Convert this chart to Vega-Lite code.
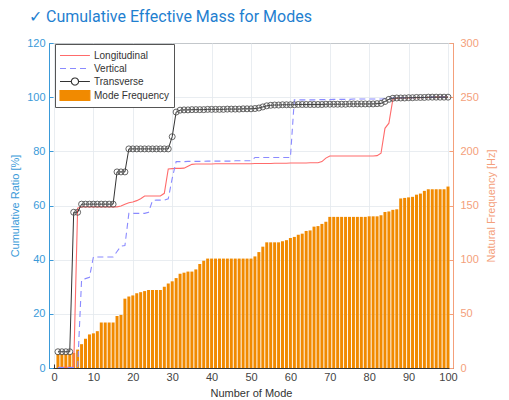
{
  "$schema": "https://vega.github.io/schema/vega-lite/v6.json",
  "width": 404,
  "height": 325,
  "autosize": {"type": "none"},
  "padding": {"left": 49, "top": 43, "right": 56, "bottom": 32},
  "title": {
    "text": "✓  Cumulative Effective Mass for Modes",
    "anchor": "start",
    "frame": "group",
    "dx": -20,
    "offset": 12,
    "font": "Roboto",
    "fontSize": 16,
    "fontWeight": "normal",
    "color": "#1f80d0"
  },
  "config": {
    "view": {"stroke": "#444", "strokeWidth": 1},
    "font": "Liberation Sans",
    "axis": {
      "labelFont": "Liberation Sans",
      "titleFont": "Liberation Sans",
      "labelFontSize": 11,
      "titleFontSize": 11,
      "titleFontWeight": "normal",
      "gridColor": "#e3e8ee",
      "gridWidth": 0.8
    }
  },
  "data": {
    "values": [
      {"mode": 1, "freq": 13, "lon": 0.3, "ver": 0.2, "tra": 6},
      {"mode": 2, "freq": 13, "lon": 0.3, "ver": 0.2, "tra": 6},
      {"mode": 3, "freq": 13, "lon": 0.3, "ver": 0.2, "tra": 6},
      {"mode": 4, "freq": 13, "lon": 0.3, "ver": 0.2, "tra": 6},
      {"mode": 5, "freq": 14, "lon": 0.3, "ver": 0.2, "tra": 57.5},
      {"mode": 6, "freq": 17, "lon": 59, "ver": 0.3, "tra": 57.5},
      {"mode": 7, "freq": 22, "lon": 59.5, "ver": 32.5, "tra": 60.5},
      {"mode": 8, "freq": 27, "lon": 59.5, "ver": 33, "tra": 60.5},
      {"mode": 9, "freq": 31, "lon": 59.5, "ver": 33.5, "tra": 60.5},
      {"mode": 10, "freq": 32, "lon": 59.5, "ver": 41, "tra": 60.5},
      {"mode": 11, "freq": 34, "lon": 59.5, "ver": 41, "tra": 60.5},
      {"mode": 12, "freq": 42, "lon": 59.5, "ver": 41, "tra": 60.5},
      {"mode": 13, "freq": 42, "lon": 59.5, "ver": 41, "tra": 60.5},
      {"mode": 14, "freq": 42, "lon": 59.5, "ver": 41, "tra": 60.5},
      {"mode": 15, "freq": 42, "lon": 59.5, "ver": 41, "tra": 60.5},
      {"mode": 16, "freq": 48, "lon": 59.5, "ver": 43, "tra": 72.4},
      {"mode": 17, "freq": 49, "lon": 59.8, "ver": 45, "tra": 72.4},
      {"mode": 18, "freq": 64, "lon": 60.5, "ver": 45.2, "tra": 72.4},
      {"mode": 19, "freq": 66, "lon": 61, "ver": 57.1, "tra": 80.9},
      {"mode": 20, "freq": 67, "lon": 61.3, "ver": 57.1, "tra": 80.9},
      {"mode": 21, "freq": 69, "lon": 61.8, "ver": 57.1, "tra": 80.9},
      {"mode": 22, "freq": 70, "lon": 62.5, "ver": 57.1, "tra": 80.9},
      {"mode": 23, "freq": 71, "lon": 63.5, "ver": 57.1, "tra": 80.9},
      {"mode": 24, "freq": 72, "lon": 63.5, "ver": 57.5, "tra": 80.9},
      {"mode": 25, "freq": 72, "lon": 63.5, "ver": 61.8, "tra": 80.9},
      {"mode": 26, "freq": 72, "lon": 63.5, "ver": 62, "tra": 80.9},
      {"mode": 27, "freq": 72, "lon": 63.5, "ver": 62, "tra": 80.9},
      {"mode": 28, "freq": 75, "lon": 64.5, "ver": 62, "tra": 80.9},
      {"mode": 29, "freq": 78, "lon": 73.5, "ver": 62.5, "tra": 80.9},
      {"mode": 30, "freq": 80, "lon": 73.6, "ver": 70, "tra": 85.4},
      {"mode": 31, "freq": 83, "lon": 73.7, "ver": 76.2, "tra": 94.5},
      {"mode": 32, "freq": 87, "lon": 73.7, "ver": 76.2, "tra": 95.2},
      {"mode": 33, "freq": 88, "lon": 73.8, "ver": 76.2, "tra": 95.3},
      {"mode": 34, "freq": 89, "lon": 74.5, "ver": 76.3, "tra": 95.3},
      {"mode": 35, "freq": 89, "lon": 75.2, "ver": 76.3, "tra": 95.4},
      {"mode": 36, "freq": 91, "lon": 75.3, "ver": 76.3, "tra": 95.4},
      {"mode": 37, "freq": 96, "lon": 75.3, "ver": 76.3, "tra": 95.4},
      {"mode": 38, "freq": 99, "lon": 75.3, "ver": 76.3, "tra": 95.4},
      {"mode": 39, "freq": 101, "lon": 75.3, "ver": 76.4, "tra": 95.5},
      {"mode": 40, "freq": 101, "lon": 75.3, "ver": 76.4, "tra": 95.5},
      {"mode": 41, "freq": 101, "lon": 75.4, "ver": 76.4, "tra": 95.5},
      {"mode": 42, "freq": 101, "lon": 75.4, "ver": 76.4, "tra": 95.5},
      {"mode": 43, "freq": 101, "lon": 75.4, "ver": 76.4, "tra": 95.5},
      {"mode": 44, "freq": 101, "lon": 75.4, "ver": 76.4, "tra": 95.6},
      {"mode": 45, "freq": 101, "lon": 75.4, "ver": 76.4, "tra": 95.6},
      {"mode": 46, "freq": 101, "lon": 75.4, "ver": 76.5, "tra": 95.6},
      {"mode": 47, "freq": 101, "lon": 75.4, "ver": 76.5, "tra": 95.6},
      {"mode": 48, "freq": 101, "lon": 75.4, "ver": 76.5, "tra": 95.7},
      {"mode": 49, "freq": 101, "lon": 75.4, "ver": 76.5, "tra": 95.7},
      {"mode": 50, "freq": 101, "lon": 75.4, "ver": 76.5, "tra": 95.7},
      {"mode": 51, "freq": 103, "lon": 75.5, "ver": 77.7, "tra": 95.8},
      {"mode": 52, "freq": 107, "lon": 75.5, "ver": 77.7, "tra": 96.0},
      {"mode": 53, "freq": 112, "lon": 75.5, "ver": 77.7, "tra": 96.4},
      {"mode": 54, "freq": 116, "lon": 75.5, "ver": 77.7, "tra": 96.8},
      {"mode": 55, "freq": 116, "lon": 75.5, "ver": 77.7, "tra": 97.0},
      {"mode": 56, "freq": 116, "lon": 75.6, "ver": 77.7, "tra": 97.1},
      {"mode": 57, "freq": 116, "lon": 75.6, "ver": 77.7, "tra": 97.1},
      {"mode": 58, "freq": 117, "lon": 75.6, "ver": 77.7, "tra": 97.2},
      {"mode": 59, "freq": 118, "lon": 75.6, "ver": 77.7, "tra": 97.2},
      {"mode": 60, "freq": 120, "lon": 75.7, "ver": 77.7, "tra": 97.2},
      {"mode": 61, "freq": 121, "lon": 75.7, "ver": 99.0, "tra": 97.2},
      {"mode": 62, "freq": 123, "lon": 75.7, "ver": 99.0, "tra": 97.3},
      {"mode": 63, "freq": 124, "lon": 75.7, "ver": 99.0, "tra": 97.3},
      {"mode": 64, "freq": 126.5, "lon": 75.7, "ver": 99.0, "tra": 97.3},
      {"mode": 65, "freq": 127, "lon": 75.8, "ver": 99.0, "tra": 97.3},
      {"mode": 66, "freq": 130.5, "lon": 75.8, "ver": 99.0, "tra": 97.3},
      {"mode": 67, "freq": 131, "lon": 75.8, "ver": 99.1, "tra": 97.3},
      {"mode": 68, "freq": 133, "lon": 76.2, "ver": 99.1, "tra": 97.3},
      {"mode": 69, "freq": 135, "lon": 77.5, "ver": 99.1, "tra": 97.4},
      {"mode": 70, "freq": 139.5, "lon": 78.3, "ver": 99.1, "tra": 97.4},
      {"mode": 71, "freq": 139.5, "lon": 78.3, "ver": 99.2, "tra": 97.4},
      {"mode": 72, "freq": 139.5, "lon": 78.3, "ver": 99.2, "tra": 97.4},
      {"mode": 73, "freq": 139.5, "lon": 78.3, "ver": 99.2, "tra": 97.4},
      {"mode": 74, "freq": 139.5, "lon": 78.3, "ver": 99.2, "tra": 97.4},
      {"mode": 75, "freq": 139.5, "lon": 78.3, "ver": 99.2, "tra": 97.5},
      {"mode": 76, "freq": 139.5, "lon": 78.3, "ver": 99.3, "tra": 97.5},
      {"mode": 77, "freq": 139.5, "lon": 78.3, "ver": 99.3, "tra": 97.5},
      {"mode": 78, "freq": 139.5, "lon": 78.3, "ver": 99.3, "tra": 97.5},
      {"mode": 79, "freq": 139.5, "lon": 78.3, "ver": 99.3, "tra": 97.5},
      {"mode": 80, "freq": 140, "lon": 78.3, "ver": 99.3, "tra": 97.5},
      {"mode": 81, "freq": 140, "lon": 78.3, "ver": 99.3, "tra": 97.5},
      {"mode": 82, "freq": 140, "lon": 78.4, "ver": 99.3, "tra": 97.6},
      {"mode": 83, "freq": 141, "lon": 79.3, "ver": 99.3, "tra": 97.7},
      {"mode": 84, "freq": 144, "lon": 88.5, "ver": 99.4, "tra": 98.4},
      {"mode": 85, "freq": 144.5, "lon": 90.4, "ver": 99.5, "tra": 99.2},
      {"mode": 86, "freq": 146, "lon": 99.2, "ver": 99.7, "tra": 99.6},
      {"mode": 87, "freq": 146.5, "lon": 99.6, "ver": 99.8, "tra": 99.7},
      {"mode": 88, "freq": 156.5, "lon": 99.7, "ver": 99.8, "tra": 99.7},
      {"mode": 89, "freq": 157, "lon": 99.7, "ver": 99.8, "tra": 99.7},
      {"mode": 90, "freq": 157.5, "lon": 99.7, "ver": 99.8, "tra": 99.8},
      {"mode": 91, "freq": 158, "lon": 99.8, "ver": 99.8, "tra": 99.8},
      {"mode": 92, "freq": 160, "lon": 99.8, "ver": 99.9, "tra": 99.9},
      {"mode": 93, "freq": 161, "lon": 99.8, "ver": 99.9, "tra": 99.9},
      {"mode": 94, "freq": 163.5, "lon": 99.9, "ver": 99.9, "tra": 99.9},
      {"mode": 95, "freq": 165, "lon": 99.9, "ver": 99.9, "tra": 100},
      {"mode": 96, "freq": 165, "lon": 99.9, "ver": 100, "tra": 100},
      {"mode": 97, "freq": 165, "lon": 100, "ver": 100, "tra": 100},
      {"mode": 98, "freq": 165, "lon": 100, "ver": 100, "tra": 100},
      {"mode": 99, "freq": 165, "lon": 100, "ver": 100, "tra": 100},
      {"mode": 100, "freq": 167.5, "lon": 100, "ver": 100, "tra": 100}
    ]
  },
  "encoding": {
    "x": {
      "field": "mode",
      "type": "quantitative",
      "scale": {"domain": [0, 100], "nice": false, "zero": false},
      "axis": {
        "values": [0, 10, 20, 30, 40, 50, 60, 70, 80, 90, 100],
        "title": "Number of Mode",
        "titleColor": "#333333",
        "titlePadding": 5,
        "labelColor": "#444444",
        "labelPadding": 7,
        "domainColor": "#333333",
        "tickColor": "#333333",
        "tickSize": -4,
        "grid": true
      }
    }
  },
  "layer": [
    {
      "mark": {"type": "bar", "size": 3},
      "encoding": {
        "y": {
          "field": "freq",
          "type": "quantitative",
          "scale": {"domain": [0, 300], "nice": false},
          "axis": {
            "orient": "right",
            "values": [0, 50, 100, 150, 200, 250, 300],
            "title": "Natural Frequency [Hz]",
            "titleAngle": 270,
            "titleBaseline": "bottom",
            "titleColor": "#f4a07b",
            "titlePadding": 18,
            "labelColor": "#f4a07b",
            "labelPadding": 11,
            "domainColor": "#f4a07b",
            "tickColor": "#f4a07b",
            "tickSize": -4,
            "grid": false
          }
        },
        "color": {
          "datum": "Mode Frequency",
          "type": "nominal",
          "scale": {
            "domain": ["Longitudinal", "Vertical", "Transverse", "Mode Frequency"],
            "range": ["#ff6b6b", "#8a8aff", "#333333", "#f18a00"]
          },
          "legend": {
            "title": null,
            "orient": "none",
            "legendX": 6,
            "legendY": 1,
            "direction": "vertical",
            "fillColor": "#ffffff",
            "strokeColor": "#555555",
            "padding": 4,
            "rowPadding": 0,
            "symbolSize": 169,
            "symbolStrokeWidth": 1.1,
            "labelFont": "Liberation Sans",
            "labelFontSize": 10,
            "labelColor": "#333333",
            "labelOffset": 20,
            "cornerRadius": 0,
            "encode": {
              "symbols": {
                "update": {
                  "shape": {"signal": "datum.value === 'Mode Frequency' ? 'M-1,-0.75H3.6V0.75H-1Z' : datum.value === 'Transverse' ? 'M-1,0H0.75M1.85,0H3.6M1.85,0A0.55,0.55 0 1,1 0.75,0A0.55,0.55 0 1,1 1.85,0' : 'M-1,0H3.6'"},
                  "fill": {"signal": "datum.value === 'Mode Frequency' ? '#f18a00' : '#ffffff'"},
                  "fillOpacity": {"signal": "datum.value === 'Mode Frequency' ? 1 : 0"},
                  "stroke": {"signal": "datum.value === 'Mode Frequency' ? 'transparent' : datum.value === 'Longitudinal' ? '#ff6b6b' : datum.value === 'Vertical' ? '#8a8aff' : '#333333'"},
                  "strokeDash": {"signal": "datum.value === 'Vertical' ? [6, 4] : [1, 0]"},
                  "opacity": {"value": 1}
                }
              }
            }
          }
        }
      }
    },
    {
      "layer": [
        {
          "mark": {"type": "line", "strokeWidth": 1.1, "interpolate": "linear"},
          "encoding": {
            "y": {
              "field": "lon",
              "type": "quantitative",
              "scale": {"domain": [0, 120], "nice": false},
              "axis": {
                "orient": "left",
                "values": [0, 20, 40, 60, 80, 100, 120],
                "title": "Cumulative Ratio [%]",
                "titleColor": "#3a9ad9",
                "titlePadding": 6,
                "labelColor": "#3a9ad9",
                "labelPadding": 8,
                "domainColor": "#3a9ad9",
                "tickColor": "#3a9ad9",
                "tickSize": -4,
                "grid": true
              }
            },
            "color": {"datum": "Longitudinal", "type": "nominal"}
          }
        },
        {
          "mark": {"type": "line", "strokeWidth": 1.1, "strokeDash": [6, 4]},
          "encoding": {
            "y": {"field": "ver", "type": "quantitative"},
            "color": {"datum": "Vertical", "type": "nominal"}
          }
        },
        {
          "mark": {
            "type": "line",
            "strokeWidth": 1,
            "point": {"filled": false, "size": 36, "stroke": "#555555", "strokeWidth": 0.9}
          },
          "encoding": {
            "y": {"field": "tra", "type": "quantitative"},
            "color": {"datum": "Transverse", "type": "nominal"}
          }
        }
      ]
    }
  ],
  "resolve": {"scale": {"y": "independent"}}
}
